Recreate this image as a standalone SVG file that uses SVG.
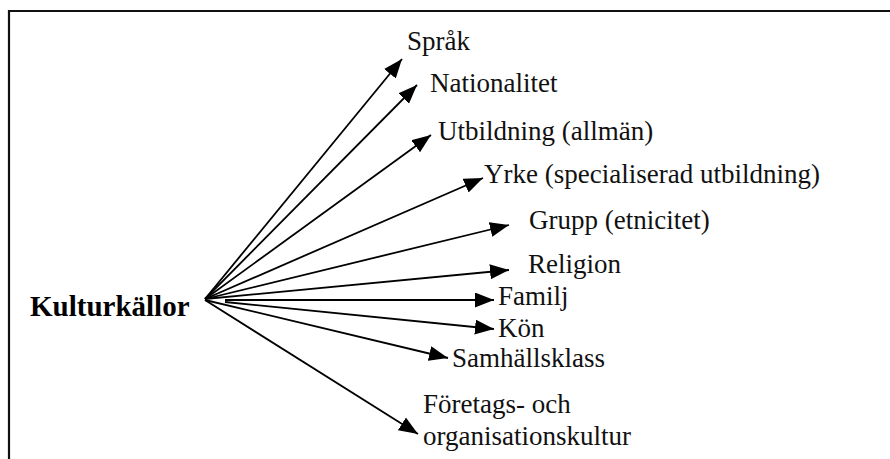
<svg xmlns="http://www.w3.org/2000/svg" width="890" height="459" viewBox="0 0 890 459">
<style>
text{font-family:'Liberation Serif','DejaVu Serif',serif;fill:#111}
.t{font-size:27px}
.b{font-size:29px;font-weight:bold;fill:#000}
.c line{stroke:#000;stroke-width:1.8;marker-end:url(#ah)}
</style>
<defs>
<marker id="ah" markerUnits="userSpaceOnUse" markerWidth="20" markerHeight="16" refX="19" refY="7.5" orient="auto" viewBox="0 0 20 16">
<path d="M0,0 L19,7.5 L0,15 z" fill="#000"/>
</marker>
</defs>
<rect width="890" height="459" fill="#fff"/>
<g id="frame" stroke="#111" stroke-width="2.2" fill="none">
<line x1="9" y1="11" x2="890" y2="11"/>
<line x1="9" y1="10" x2="9" y2="459"/>
</g>
<g id="connectors" class="c">
<line x1="205" y1="299" x2="402" y2="59"/>
<line x1="205" y1="299" x2="417" y2="85"/>
<line x1="205" y1="299" x2="431" y2="135"/>
<line x1="205" y1="299" x2="483" y2="178"/>
<line x1="205" y1="299" x2="509" y2="225"/>
<line x1="205" y1="299" x2="509" y2="270"/>
<line x1="225" y1="300" x2="494" y2="300"/>
<line x1="225" y1="302" x2="494" y2="329"/>
<line x1="205" y1="300" x2="448" y2="358"/>
<line x1="205" y1="300" x2="418" y2="434"/>
</g>
<g id="n-kulturkallor"><text class="b" x="30" y="316" font-family="Liberation Serif, DejaVu Serif, serif">Kulturkällor</text></g>
<g id="n-sprak"><text class="t" x="407" y="50" font-family="Liberation Serif, DejaVu Serif, serif">Språk</text></g>
<g id="n-nationalitet"><text class="t" x="430" y="92" font-family="Liberation Serif, DejaVu Serif, serif">Nationalitet</text></g>
<g id="n-utbildning"><text class="t" x="438" y="140" font-family="Liberation Serif, DejaVu Serif, serif">Utbildning (allmän)</text></g>
<g id="n-yrke"><text class="t" x="484" y="183" font-family="Liberation Serif, DejaVu Serif, serif">Yrke (specialiserad utbildning)</text></g>
<g id="n-grupp"><text class="t" x="529" y="229" font-family="Liberation Serif, DejaVu Serif, serif">Grupp (etnicitet)</text></g>
<g id="n-religion"><text class="t" x="528" y="273" font-family="Liberation Serif, DejaVu Serif, serif">Religion</text></g>
<g id="n-familj"><text class="t" x="498" y="305" font-family="Liberation Serif, DejaVu Serif, serif">Familj</text></g>
<g id="n-kon"><text class="t" x="498" y="337" font-family="Liberation Serif, DejaVu Serif, serif">Kön</text></g>
<g id="n-samhallsklass"><text class="t" x="452" y="367" font-family="Liberation Serif, DejaVu Serif, serif">Samhällsklass</text></g>
<g id="n-foretags"><text class="t" x="423" y="413" font-family="Liberation Serif, DejaVu Serif, serif">Företags- och</text><text class="t" x="423" y="445" font-family="Liberation Serif, DejaVu Serif, serif">organisationskultur</text></g>
</svg>
